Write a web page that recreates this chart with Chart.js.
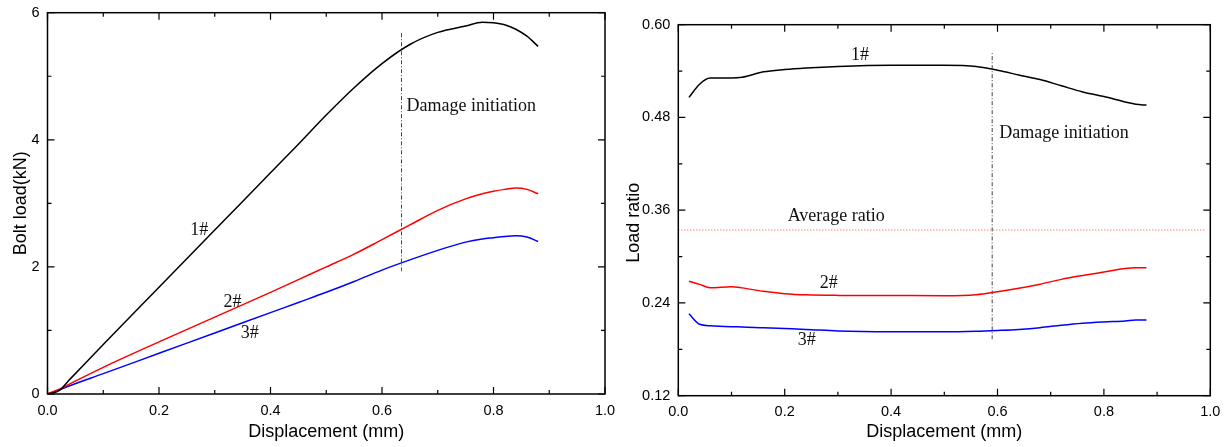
<!DOCTYPE html>
<html>
<head>
<meta charset="utf-8">
<script src="https://cdn.jsdelivr.net/npm/chart.js@4.4.1/dist/chart.umd.min.js"></script>
<style>
  html, body { margin: 0; padding: 0; background: #fff; }
  #wrap { position: relative; width: 1226px; height: 447px; }
  canvas { position: absolute; top: 0; }
  #loadChart { left: 0; }
  #ratioChart { left: 613px; }
</style>
</head>
<body>
<div id="wrap">
  <canvas id="loadChart" width="640" height="447"></canvas>
  <canvas id="ratioChart" width="613" height="447"></canvas>
</div>
<script>
// left panel - bolt load (kN) vs displacement (mm)
const loadDisp = [0, 0.02, 0.04, 0.1, 0.2, 0.3, 0.4, 0.45, 0.5, 0.55, 0.6, 0.65, 0.7, 0.75, 0.78, 0.8, 0.82, 0.84, 0.86, 0.88];
const load1 = [0, 0.05, 0.23, 0.78, 1.68, 2.58, 3.48, 3.93, 4.39, 4.82, 5.2, 5.5, 5.69, 5.79, 5.85, 5.84, 5.81, 5.74, 5.63, 5.47];
const load2 = [0, 0.07, 0.16, 0.42, 0.82, 1.21, 1.6, 1.8, 2.0, 2.2, 2.43, 2.66, 2.89, 3.07, 3.15, 3.19, 3.22, 3.24, 3.22, 3.15];
const load3 = [0, 0.06, 0.13, 0.32, 0.64, 0.96, 1.28, 1.44, 1.6, 1.77, 1.95, 2.11, 2.26, 2.39, 2.44, 2.46, 2.48, 2.49, 2.47, 2.40];
const loadDamageX = 0.635;
const loadDamageY = [1.93, 5.71];

// right panel - load ratio vs displacement (mm)
const ratioDisp = [0.02, 0.04, 0.06, 0.1, 0.12, 0.16, 0.2, 0.24, 0.3, 0.4, 0.5, 0.56, 0.6, 0.64, 0.68, 0.72, 0.76, 0.8, 0.84, 0.86, 0.88];
const ratio1 = [0.506, 0.523, 0.531, 0.531, 0.532, 0.539, 0.542, 0.544, 0.546, 0.5475, 0.5475, 0.546, 0.541, 0.535, 0.529, 0.521, 0.513, 0.507, 0.500, 0.497, 0.496];
const ratio2 = [0.268, 0.264, 0.2597, 0.261, 0.2595, 0.255, 0.252, 0.2505, 0.2498, 0.2496, 0.2494, 0.2507, 0.2545, 0.259, 0.2643, 0.2705, 0.2755, 0.28, 0.2845, 0.2856, 0.2857];
const ratio3 = [0.2261, 0.2124, 0.2105, 0.2093, 0.209, 0.2078, 0.2068, 0.2058, 0.2037, 0.2028, 0.2028, 0.2035, 0.2045, 0.2058, 0.208, 0.2112, 0.2138, 0.2155, 0.2168, 0.218, 0.218];
const ratioDamageX = 0.59;
const ratioDamageY = [0.193, 0.565];
const averageRatio = 0.3344;
const averageRatioX = [0, 0.99];

// tick values (every other one gets a label)
const dispTicks = [0, 0.1, 0.2, 0.3, 0.4, 0.5, 0.6, 0.7, 0.8, 0.9, 1.0];
const loadTicks = [0, 1, 2, 3, 4, 5, 6];
const ratioTicks = [0.12, 0.18, 0.24, 0.30, 0.36, 0.42, 0.48, 0.54, 0.60];

const loadNotes = [
  { text: '1#', x: 0.272, y: 2.58, align: 'center' },
  { text: '2#', x: 0.332, y: 1.45, align: 'center' },
  { text: '3#', x: 0.363, y: 0.956, align: 'center' },
  { text: 'Damage initiation', x: 0.644, y: 4.52, align: 'left' }
];
const ratioNotes = [
  { text: '1#', x: 0.3415, y: 0.5608, align: 'center' },
  { text: '2#', x: 0.2827, y: 0.2654, align: 'center' },
  { text: '3#', x: 0.2414, y: 0.1912, align: 'center' },
  { text: 'Average ratio', x: 0.2968, y: 0.3516, align: 'center' },
  { text: 'Damage initiation', x: 0.6034, y: 0.4595, align: 'left' }
];

const SANS = "'Liberation Sans', Arial, sans-serif";
const SERIF = "'Liberation Serif', 'Times New Roman', serif";

function pts(xs, ys) {
  return xs.map((x, i) => ({ x: x, y: ys[i] }));
}

// frame on all four sides with inward ticks
const frameTicks = {
  id: 'frameTicks',
  afterDraw(chart) {
    const ctx = chart.ctx, a = chart.chartArea;
    const xs = chart.scales.x, ys = chart.scales.y;
    ctx.save();
    ctx.strokeStyle = '#000';
    ctx.lineWidth = 1.5;
    ctx.strokeRect(a.left, a.top, a.right - a.left, a.bottom - a.top);
    ctx.lineWidth = 1.2;
    ctx.beginPath();
    xs.ticks.forEach((t, i) => {
      const px = xs.getPixelForValue(t.value);
      const len = i % 2 === 0 ? 7 : 4;
      ctx.moveTo(px, a.bottom); ctx.lineTo(px, a.bottom - len);
      ctx.moveTo(px, a.top); ctx.lineTo(px, a.top + len);
    });
    ys.ticks.forEach((t, i) => {
      const py = ys.getPixelForValue(t.value);
      const len = i % 2 === 0 ? 7 : 4;
      ctx.moveTo(a.left, py); ctx.lineTo(a.left + len, py);
      ctx.moveTo(a.right, py); ctx.lineTo(a.right - len, py);
    });
    ctx.stroke();
    ctx.restore();
  }
};

// text notes placed in data coordinates
const notes = {
  id: 'notes',
  afterDatasetsDraw(chart, args, opts) {
    const ctx = chart.ctx;
    ctx.save();
    ctx.font = '18px ' + SERIF;
    ctx.fillStyle = '#111';
    ctx.textBaseline = 'middle';
    (opts.items || []).forEach(n => {
      ctx.textAlign = n.align;
      ctx.fillText(n.text, chart.scales.x.getPixelForValue(n.x), chart.scales.y.getPixelForValue(n.y));
    });
    ctx.restore();
  }
};

function lineSet(data, color, dash, width) {
  return {
    data: data,
    borderColor: color,
    borderWidth: width || 1.5,
    borderDash: dash || [],
    pointRadius: 0,
    fill: false,
    cubicInterpolationMode: 'monotone'
  };
}

function makeChart(id, datasets, cfg) {
  return new Chart(document.getElementById(id), {
    type: 'line',
    data: { datasets: datasets },
    plugins: [frameTicks, notes],
    options: {
      responsive: false,
      animation: false,
      layout: { padding: cfg.padding },
      plugins: {
        legend: { display: false },
        tooltip: { enabled: false },
        notes: { items: cfg.notes }
      },
      scales: {
        x: {
          type: 'linear',
          min: 0, max: 1,
          afterBuildTicks: s => { s.ticks = dispTicks.map(v => ({ value: v })); },
          afterFit: s => { s.height = cfg.xHeight; s.paddingLeft = 0; s.paddingRight = 0; },
          grid: { display: false, drawTicks: false },
          border: { display: false },
          ticks: {
            autoSkip: false, maxRotation: 0, padding: 8, color: '#000',
            font: { family: SANS, size: 14.5 },
            callback: (v, i) => i % 2 === 0 ? v.toFixed(1) : ''
          },
          title: {
            display: true, text: 'Displacement (mm)', color: '#000',
            font: { family: SANS, size: 18 },
            padding: { top: 0, bottom: 4 }
          }
        },
        y: {
          type: 'linear',
          min: cfg.yTicks[0], max: cfg.yTicks[cfg.yTicks.length - 1],
          afterBuildTicks: s => { s.ticks = cfg.yTicks.map(v => ({ value: v })); },
          afterFit: s => { s.width = cfg.yWidth; s.paddingTop = 0; s.paddingBottom = 0; },
          grid: { display: false, drawTicks: false },
          border: { display: false },
          ticks: {
            autoSkip: false, padding: 8, color: '#000',
            font: { family: SANS, size: 14.5 },
            callback: (v, i) => i % 2 === 0 ? v.toFixed(cfg.yDigits) : ''
          },
          title: {
            display: true, text: cfg.yTitle, color: '#000',
            font: { family: SANS, size: 18 },
            padding: { top: 10, bottom: 0 }
          }
        }
      }
    }
  });
}

makeChart('loadChart', [
  lineSet(pts([loadDamageX, loadDamageX], loadDamageY), '#444', [4, 2, 1, 2], 1),
  lineSet(pts(loadDisp, load1), '#000'),
  lineSet(pts(loadDisp, load2), '#ff0000'),
  lineSet(pts(loadDisp, load3), '#0000ff')
], {
  padding: { left: 0, right: 35, top: 12.7, bottom: 0 },
  xHeight: 53, yWidth: 47.5,
  yTicks: loadTicks, yDigits: 0, yTitle: 'Bolt load(kN)',
  notes: loadNotes
});

// trailing spaces push the rotated title a little lower, like the original
makeChart('ratioChart', [
  lineSet(pts(averageRatioX, [averageRatio, averageRatio]), '#ff4040', [1, 2], 1),
  lineSet(pts([ratioDamageX, ratioDamageX], ratioDamageY), '#444', [4, 2, 1, 2], 1),
  lineSet(pts(ratioDisp, ratio1), '#000'),
  lineSet(pts(ratioDisp, ratio2), '#ff0000'),
  lineSet(pts(ratioDisp, ratio3), '#0000ff')
], {
  padding: { left: 0, right: 15.7, top: 24.7, bottom: 0 },
  xHeight: 51.3, yWidth: 65.3,
  yTicks: ratioTicks, yDigits: 2, yTitle: 'Load ratio     ',
  notes: ratioNotes
});
</script>
</body>
</html>
